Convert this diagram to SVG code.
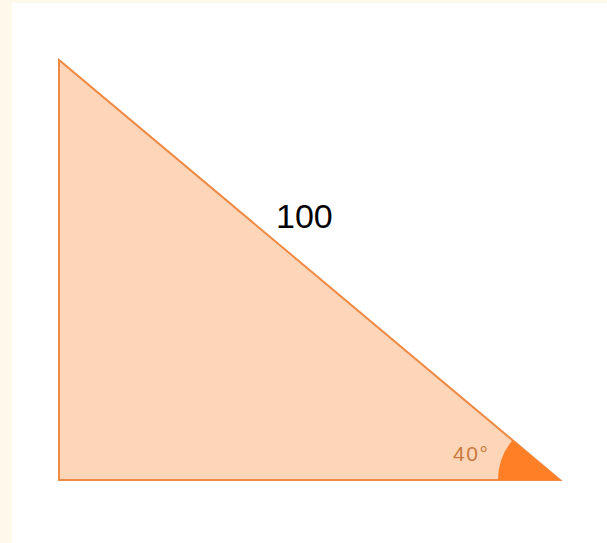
<svg xmlns="http://www.w3.org/2000/svg" width="607" height="543" viewBox="0 0 607 543">
<style>
.tri{fill:#fdd5b8;stroke:#ef8a45;stroke-width:2;stroke-linejoin:miter}
.ang{fill:#ff7f27;stroke:none}
.lbl{font-family:"Liberation Sans",Arial,sans-serif}
</style>
<rect x="0" y="0" width="607" height="543" fill="#fff9ec"/>
<rect x="12" y="3" width="595" height="540" fill="#ffffff"/>
<g id="triangle">
<polygon class="tri" points="59,60 59,480 560,480"/>
</g>
<g id="angle">
<path class="ang" d="M560,480 L498,480 A62,62 0 0 1 512.5,440.15 Z"/>
<text class="lbl" x="453" y="461" font-size="21" fill="#c97a3e" textLength="35" lengthAdjust="spacing">40°</text>
</g>
<g id="hyp-label">
<text class="lbl" x="276" y="228" font-size="34" fill="#000000">100</text>
</g>
</svg>
